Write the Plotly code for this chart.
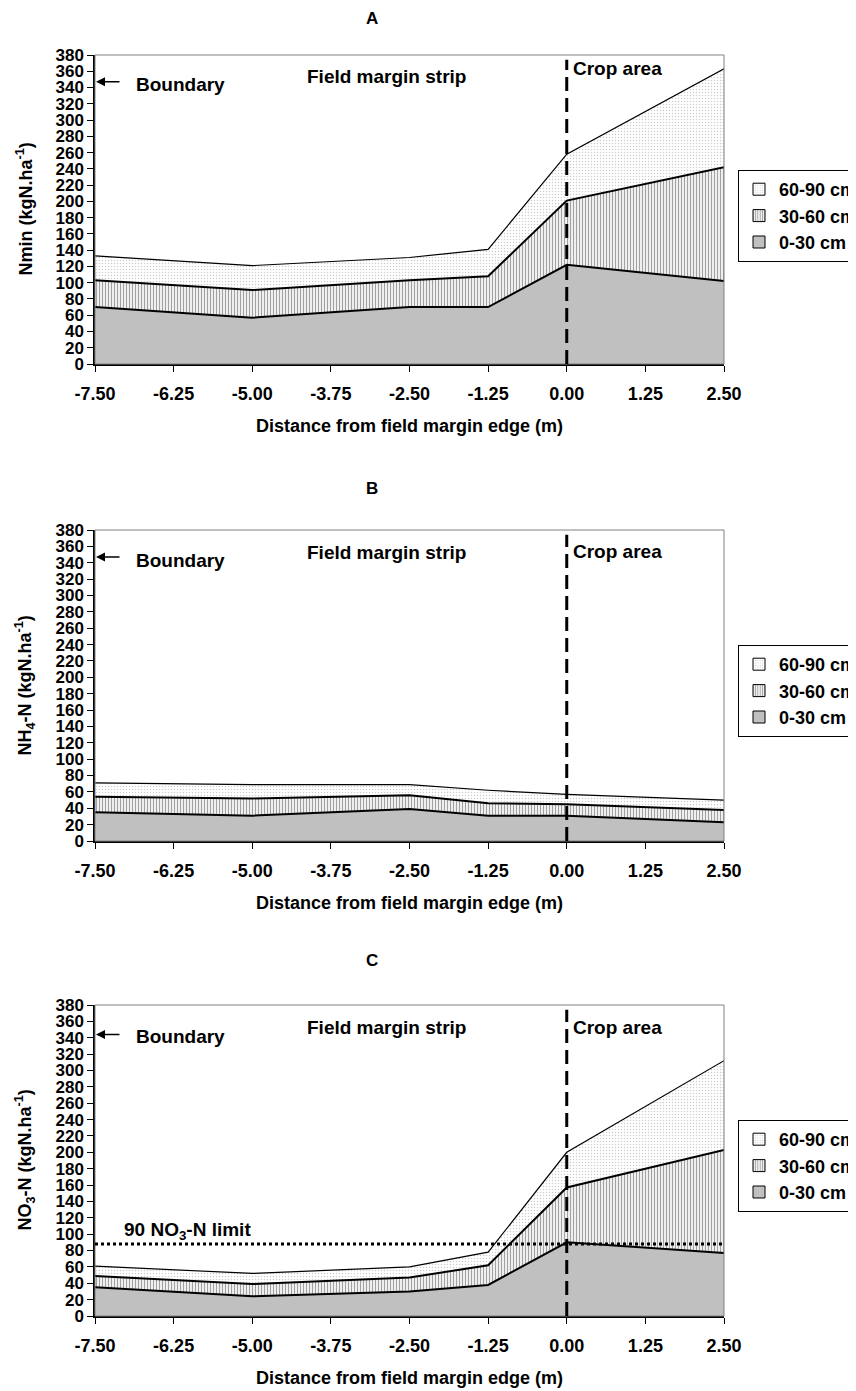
import plotly.graph_objects as go

W, H = 856, 1391
OFF = 8  # default page body margin

distance = [-7.5, -5.0, -2.5, -1.25, 0.0, 2.5]
layer_names = ["0-30 cm", "30-60 cm", "60-90 cm"]

# Panel A: Nmin, per-layer values (kgN/ha)
a_0_30 = [70, 57, 70, 70, 122, 102]
a_30_60 = [33, 34, 33, 38, 79, 140]
a_60_90 = [30, 30, 28, 33, 57, 121]

# Panel B: NH4-N
b_0_30 = [35, 31, 39, 31, 31, 23]
b_30_60 = [19, 21, 17, 15, 14, 15]
b_60_90 = [17, 17, 13, 16, 12, 12]

# Panel C: NO3-N
c_0_30 = [35, 24, 30, 38, 90, 77]
c_30_60 = [14, 15, 17, 24, 67, 126]
c_60_90 = [12, 13, 13, 16, 43, 109]

no3_limit = 88
y_ticks = list(range(0, 381, 20))
x_ticks = [-7.5, -6.25, -5.0, -3.75, -2.5, -1.25, 0.0, 1.25, 2.5]
x_ticktext = ["%.2f" % v for v in x_ticks]

panels = [
    dict(letter="A", ytitle="Nmin (kgN.ha<sup>-1</sup>)", layers=[a_0_30, a_30_60, a_60_90],
         top=55, bottom=364, title_y=19, crop_y=364, field_y=353, bound_y=344, arrow_y=347),
    dict(letter="B", ytitle="NH<sub>4</sub>-N (kgN.ha<sup>-1</sup>)", layers=[b_0_30, b_30_60, b_60_90],
         top=530, bottom=841, title_y=489, crop_y=354, field_y=353, bound_y=343, arrow_y=347),
    dict(letter="C", ytitle="NO<sub>3</sub>-N (kgN.ha<sup>-1</sup>)", layers=[c_0_30, c_30_60, c_60_90],
         top=1005, bottom=1316, title_y=960, crop_y=352, field_y=352, bound_y=341, arrow_y=344),
]


def px(x):
    return (x - OFF) / W


def py(y):
    return 1 - (y - OFF) / H


FONT = "Liberation Sans, Arial, sans-serif"
fills = [
    dict(fillcolor="#C0C0C0", pattern=None, lw=2.0),
    dict(fillcolor="white", pattern=dict(shape="|", fgcolor="#444444", bgcolor="white", size=3, solidity=0.45), lw=2.0),
    dict(fillcolor="white", pattern=dict(shape=".", fgcolor="#9a9a9a", bgcolor="white", size=3, solidity=0.2), lw=1.2),
]

x0px, x1px = 95, 724
fig = go.Figure()
for i, p in enumerate(panels):
    sfx = "" if i == 0 else str(i + 1)
    xa, ya = "x" + sfx, "y" + sfx
    leg = "legend" + sfx
    for k, vals in enumerate(p["layers"]):
        f = fills[k]
        kw = dict(x=distance, y=vals, mode="lines", stackgroup="s" + str(i),
                  line=dict(color="black", width=f["lw"]), fillcolor=f["fillcolor"],
                  name=layer_names[k], showlegend=False, xaxis=xa, yaxis=ya, hoverinfo="skip")
        if f["pattern"]:
            kw["fillpattern"] = f["pattern"]
        fig.add_trace(go.Scatter(**kw))
    # legend entries (square swatches)
    for k in range(3):
        f = fills[k]
        mk = dict(color=f["fillcolor"], line=dict(color="black", width=1))
        if f["pattern"]:
            mk["pattern"] = f["pattern"]
        fig.add_trace(go.Bar(x=[None], y=[None], name=layer_names[k], marker=mk,
                             xaxis=xa, yaxis=ya, legend=leg, showlegend=True))
    ydom = [py(p["bottom"]), py(p["top"])]
    axfont = dict(family=FONT, size=18, color="black", weight="bold")
    fig.layout["xaxis" + sfx] = dict(
        domain=[px(x0px), px(x1px)], range=[-7.5, 2.5], tickvals=x_ticks, ticktext=x_ticktext,
        ticks="outside", ticklen=6, tickcolor="black", showline=True, linecolor="black", linewidth=2,
        showgrid=False, zeroline=False, tickfont=axfont, anchor=ya, ticklabelstandoff=6,
        automargin=False)
    fig.layout["yaxis" + sfx] = dict(
        domain=ydom, range=[0, 380], tickvals=y_ticks, ticks="outside", ticklen=6, tickcolor="black",
        showline=True, linecolor="black", linewidth=1.5, showgrid=False, zeroline=False,
        tickfont=dict(family=FONT, size=17, color="black", weight="bold"), anchor=xa,
        automargin=False)
    # frame
    fig.add_shape(type="rect", xref=xa + " domain", yref=ya + " domain", x0=0, x1=1, y0=0, y1=1,
                  line=dict(color="#808080", width=1), layer="above")
    # vertical dashed line at field margin edge
    fig.add_shape(type="line", xref=xa, yref=ya + " domain", x0=0, x1=0, y0=0, y1=0.985,
                  line=dict(color="black", width=3, dash="14px,7px"), layer="above")
    # legend
    fig.layout[leg] = dict(x=px(738), xanchor="left", y=py(p["top"] + 115), yanchor="top",
                           xref="container", yref="container",
                           bordercolor="black", borderwidth=1, bgcolor="white",
                           font=dict(family=FONT, size=18, color="black", weight="bold"),
                           traceorder="reversed", itemwidth=30, tracegroupgap=0)
    # titles and labels
    fig.add_annotation(xref="paper", yref="paper", x=px(372), y=py(p["title_y"]), text=p["letter"],
                       xanchor="center", yanchor="middle", showarrow=False,
                       font=dict(family=FONT, size=17, color="black", weight="bold"))
    fig.add_annotation(xref="paper", yref="paper", x=px(25), y=py((p["top"] + p["bottom"]) / 2),
                       xanchor="center", yanchor="middle",
                       text=p["ytitle"], textangle=-90, showarrow=False,
                       font=dict(family=FONT, size=18, color="black", weight="bold"))
    fig.add_annotation(xref="paper", yref="paper", x=px((x0px + x1px) / 2), y=py(p["bottom"] + 62),
                       xanchor="center", yanchor="middle",
                       text="Distance from field margin edge (m)", showarrow=False,
                       font=dict(family=FONT, size=18, color="black", weight="bold"))
    fig.add_annotation(xref=xa, yref=ya, x=-7.5, y=p["arrow_y"], ax=26, ay=0, text="", showarrow=True,
                       arrowhead=2, arrowsize=1.2, arrowwidth=1.5, arrowcolor="black", standoff=1)
    afont = dict(family=FONT, size=19, color="black", weight="bold")
    fig.add_annotation(xref=xa, yref=ya, x=-6.88, y=p["bound_y"], text="Boundary", showarrow=False,
                       xanchor="left", yanchor="middle", font=afont)
    fig.add_annotation(xref=xa, yref=ya, x=-2.87, y=p["field_y"], text="Field margin strip",
                       xanchor="center", yanchor="middle", showarrow=False, font=afont)
    fig.add_annotation(xref=xa, yref=ya, x=0.07, y=p["crop_y"], text="Crop area", showarrow=False,
                       xanchor="left", yanchor="middle", font=afont)
    if p["letter"] == "C":
        fig.add_shape(type="line", xref=xa, yref=ya, x0=-7.5, x1=2.5, y0=no3_limit, y1=no3_limit,
                      line=dict(color="black", width=3, dash="dot"), layer="above")
        fig.add_annotation(xref=xa, yref=ya, x=-7.07, y=104, text="90 NO<sub>3</sub>-N limit",
                           showarrow=False, xanchor="left", yanchor="middle",
                           font=dict(family=FONT, size=19, color="black", weight="bold"))

fig.update_layout(width=W, height=H, margin=dict(l=0, r=0, t=0, b=0, autoexpand=False),
                  paper_bgcolor="white", plot_bgcolor="white",
                  font=dict(family=FONT, color="black", weight="bold"))
fig.write_html("out.html")
